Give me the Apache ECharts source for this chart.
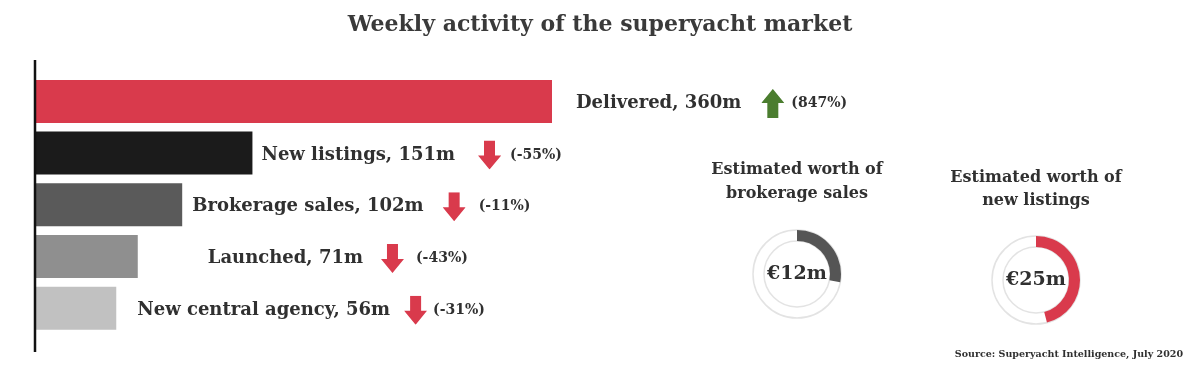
<!DOCTYPE html>
<html><head><meta charset="utf-8">
<script src="https://cdn.jsdelivr.net/npm/echarts@6/dist/echarts.min.js"></script>
<style>html,body{margin:0;padding:0;background:#fff}#c{width:1200px;height:368px}</style>
</head><body><div id="c"></div>
<script>
const titleText = 'Weekly activity of the superyacht market';
const categories = ['Delivered', 'New listings', 'Brokerage sales', 'Launched', 'New central agency'];
const values = [360, 151, 102, 71, 56];
const changes = [847, -55, -11, -43, -31];
const donutTitles = ['Estimated worth of\nbrokerage sales', 'Estimated worth of\nnew listings'];
const donutWorth = [12, 25];
const donutShare = [28, 46];
const sourceText = 'Source: Superyacht Intelligence, July 2020';

const barColors = ['#d93a4c', '#1b1b1b', '#5a5a5a', '#8f8f8f', '#c1c1c1'];
const donutColors = ['#555555', '#d93a4c'];
const labelGap = [24, 9, 10, 70, 21];
const arrowGap = [20, 23, 19, 18, 14];
const pctGap = [7, 9, 13, 12, 6];
const FONT = '"DejaVu Serif", serif';
const TXT = '#303030';

function arrowSvg(up, color) {
  const p = up ? 'M11.5 0 L23 14 L17 14 L17 29 L6 29 L6 14 L0 14 Z'
               : 'M6 0 L17 0 L17 15 L23 15 L11.5 29 L0 15 L6 15 Z';
  return 'data:image/svg+xml;charset=utf-8,' + encodeURIComponent(
    '<svg xmlns="http://www.w3.org/2000/svg" width="23" height="29" viewBox="0 0 23 29"><path d="' + p + '" fill="' + color + '"/></svg>');
}
const upImg = arrowSvg(true, '#4b7d2f');
const downImg = arrowSvg(false, '#d93a4c');

const barData = values.map((v, i) => ({
  value: v,
  itemStyle: { color: barColors[i] },
  label: {
    show: true, position: 'right', distance: labelGap[i], offset: [0, 2],
    formatter: '{n|' + categories[i] + ', ' + v + 'm}{g1| }{a| }{g2| }{p|(' + changes[i] + '%)}',
    rich: {
      n: { fontFamily: FONT, fontWeight: 'bold', fontSize: 18, color: TXT },
      g1: { width: arrowGap[i], fontSize: 10 },
      a: { width: 23, height: 29, backgroundColor: { image: changes[i] > 0 ? upImg : downImg } },
      g2: { width: pctGap[i], fontSize: 10 },
      p: { fontFamily: FONT, fontWeight: 'bold', fontSize: 14, color: TXT }
    }
  }
}));

const donutCenters = [[797, 274], [1036, 280]];
const donutSeries = [];
donutCenters.forEach((c, i) => {
  donutSeries.push({
    type: 'pie', center: c, radius: [33, 44], silent: true, z: 1,
    label: { show: false }, labelLine: { show: false },
    itemStyle: { color: '#ffffff', borderColor: '#e3e3e3', borderWidth: 1.5 },
    data: [{ value: 1 }]
  });
  donutSeries.push({
    type: 'pie', center: c, radius: [33, 44], silent: true, z: 2,
    startAngle: 90, clockwise: true,
    labelLine: { show: false },
    data: [
      { value: donutShare[i], itemStyle: { color: donutColors[i] },
        label: { show: true, position: 'center', formatter: '€' + donutWorth[i] + 'm',
                 fontFamily: FONT, fontWeight: 'bold', fontSize: 19, color: TXT } },
      { value: 100 - donutShare[i], itemStyle: { color: 'rgba(0,0,0,0)' }, label: { show: false } }
    ]
  });
});

const chart = echarts.init(document.getElementById('c'), null, { renderer: 'canvas' });
chart.setOption({
  animation: false,
  backgroundColor: '#ffffff',
  title: [
    { text: titleText, left: 600, top: 14, padding: 0, textAlign: 'center',
      textStyle: { fontFamily: FONT, fontWeight: 'bold', fontSize: 22, color: '#3a3a3a' } },
    { text: donutTitles[0], left: 797, top: 158, padding: 0, textAlign: 'center',
      textStyle: { fontFamily: FONT, fontWeight: 'bold', fontSize: 16, lineHeight: 24, color: TXT } },
    { text: donutTitles[1], left: 1036, top: 166, padding: 0, textAlign: 'center',
      textStyle: { fontFamily: FONT, fontWeight: 'bold', fontSize: 16, lineHeight: 23, color: TXT } },
    { text: sourceText, right: 17, top: 350, padding: 0,
      textStyle: { fontFamily: FONT, fontWeight: 'bold', fontSize: 9.5, color: TXT } }
  ],
  grid: { left: 36, top: 75.6, width: 516, height: 258.4, containLabel: false },
  xAxis: { type: 'value', min: 0, max: 360, show: false },
  yAxis: { type: 'category', data: categories, inverse: true,
    axisLine: { show: false }, axisTick: { show: false }, axisLabel: { show: false }, splitLine: { show: false } },
  graphic: [
    { type: 'line', shape: { x1: 35, y1: 60, x2: 35, y2: 352 }, style: { stroke: '#111111', lineWidth: 2.5 }, z: 10 }
  ],
  series: [
    { type: 'bar', data: barData, barWidth: 43, silent: true, z: 3 }
  ].concat(donutSeries)
});
</script></body></html>
